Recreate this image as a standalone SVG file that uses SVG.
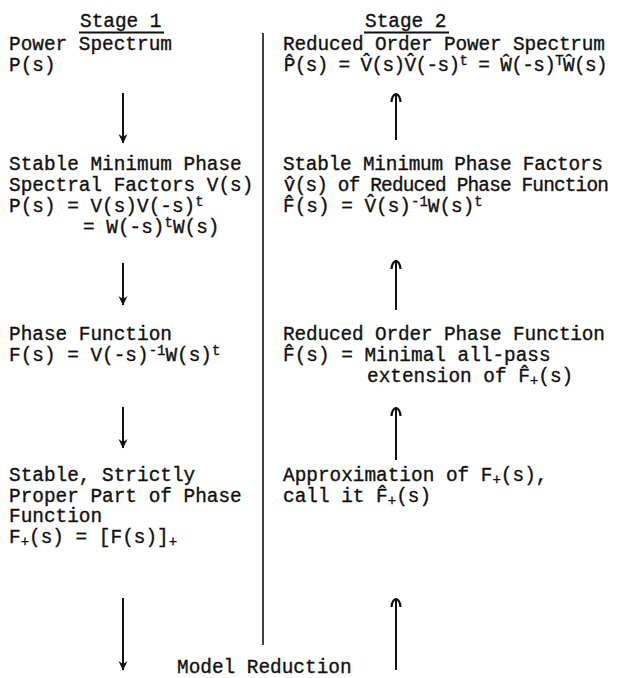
<svg xmlns="http://www.w3.org/2000/svg" width="640" height="678" viewBox="0 0 640 678">
<defs>
<style>
text{font-family:"Liberation Mono","DejaVu Sans Mono",monospace;font-size:19.4px;fill:#111;stroke:#111;stroke-width:0.35px;}
.sup{font-size:14px;}
.sub{font-size:14px;}
.ln{stroke:#111;stroke-width:2;fill:none;}
.div{stroke:#111;stroke-width:1.6;fill:none;}
</style>
<marker id="dn" markerWidth="10" markerHeight="12" refX="5" refY="11" orient="0" markerUnits="userSpaceOnUse" viewBox="0 0 10 12">
<path d="M0.5,2 L5,11.5 L9.5,2 L5,5 Z" fill="#111"/>
</marker>
<marker id="up" markerWidth="12" markerHeight="12" refX="6" refY="1" orient="0" markerUnits="userSpaceOnUse" viewBox="0 0 12 12">
<path d="M1.5,9 Q2,2 6,1 Q10,2 10.5,9" fill="none" stroke="#111" stroke-width="2.2"/>
</marker>
</defs>
<rect width="640" height="678" fill="#fff"/>

<g id="headers">
<text x="80" y="27">Stage 1</text>
<line class="ln" x1="79" y1="32.5" x2="164" y2="32.5"/>
<text x="365" y="27">Stage 2</text>
<line class="ln" x1="364" y1="32.5" x2="449" y2="32.5"/>
</g>

<g id="divider">
<line class="div" x1="263" y1="33" x2="263" y2="645"/>
</g>

<g id="power-spectrum">
<text x="9" y="50">Power Spectrum</text>
<text x="9" y="71">P(s)</text>
</g>

<g id="spectral-factors">
<text x="9" y="170">Stable Minimum Phase</text>
<text x="9" y="191">Spectral Factors V(s)</text>
<text x="9" y="212">P(s) = V(s)V(-s)<tspan class="sup" dy="-6">t</tspan></text>
<text x="83" y="233">= W(-s)<tspan class="sup" dy="-6">t</tspan><tspan dy="6">W(s)</tspan></text>
</g>

<g id="phase-function">
<text x="9" y="340">Phase Function</text>
<text x="9" y="361">F(s) = V(-s)<tspan class="sup" dy="-6">-1</tspan><tspan dy="6">W(s)</tspan><tspan class="sup" dy="-6">t</tspan></text>
</g>

<g id="stable-part">
<text x="9" y="481">Stable, Strictly</text>
<text x="9" y="502">Proper Part of Phase</text>
<text x="9" y="522">Function</text>
<text x="9" y="543">F<tspan class="sub" dy="3">+</tspan><tspan dy="-3">(s) = [F(s)]</tspan><tspan class="sub" dy="3">+</tspan></text>
</g>

<g id="reduced-power-spectrum">
<text x="283" y="50" textLength="322" lengthAdjust="spacing">Reduced Order Power Spectrum</text>
<text x="283" y="71" textLength="324" lengthAdjust="spacing">P&#770;(s) = V&#770;(s)V&#770;(-s)<tspan class="sup" dy="-6">t</tspan><tspan dy="6"> = W&#770;(-s)</tspan><tspan class="sup" dy="-6">T</tspan><tspan dy="6">W&#770;(s)</tspan></text>
</g>

<g id="reduced-factors">
<text x="283" y="170" textLength="320" lengthAdjust="spacing">Stable Minimum Phase Factors</text>
<text x="283" y="191" textLength="325" lengthAdjust="spacing">v&#770;(s) of Reduced Phase Function</text>
<text x="283" y="212">F&#770;(s) = V&#770;(s)<tspan class="sup" dy="-6">-1</tspan><tspan dy="6">W(s)</tspan><tspan class="sup" dy="-6">t</tspan></text>
</g>

<g id="reduced-phase-function">
<text x="283" y="340" textLength="322" lengthAdjust="spacing">Reduced Order Phase Function</text>
<text x="283" y="361">F&#770;(s) = Minimal all-pass</text>
<text x="367" y="382">extension of F&#770;<tspan class="sub" dy="3">+</tspan><tspan dy="-3">(s)</tspan></text>
</g>

<g id="approximation">
<text x="283" y="481">Approximation of F<tspan class="sub" dy="3">+</tspan><tspan dy="-3">(s),</tspan></text>
<text x="283" y="502">call it F&#770;<tspan class="sub" dy="3">+</tspan><tspan dy="-3">(s)</tspan></text>
</g>

<g id="model-reduction">
<text x="177" y="673">Model Reduction</text>
</g>

<g id="connectors">
<line class="ln" x1="123" y1="93" x2="123" y2="143" marker-end="url(#dn)"/>
<line class="ln" x1="123" y1="263" x2="123" y2="305" marker-end="url(#dn)"/>
<line class="ln" x1="123" y1="407" x2="123" y2="448" marker-end="url(#dn)"/>
<line class="ln" x1="123" y1="598" x2="123" y2="670" marker-end="url(#dn)"/>
<line class="ln" x1="396" y1="140" x2="396" y2="94" marker-end="url(#up)"/>
<line class="ln" x1="396" y1="310" x2="396" y2="261" marker-end="url(#up)"/>
<line class="ln" x1="396" y1="460" x2="396" y2="408" marker-end="url(#up)"/>
<line class="ln" x1="396" y1="670" x2="396" y2="599" marker-end="url(#up)"/>
</g>
</svg>
